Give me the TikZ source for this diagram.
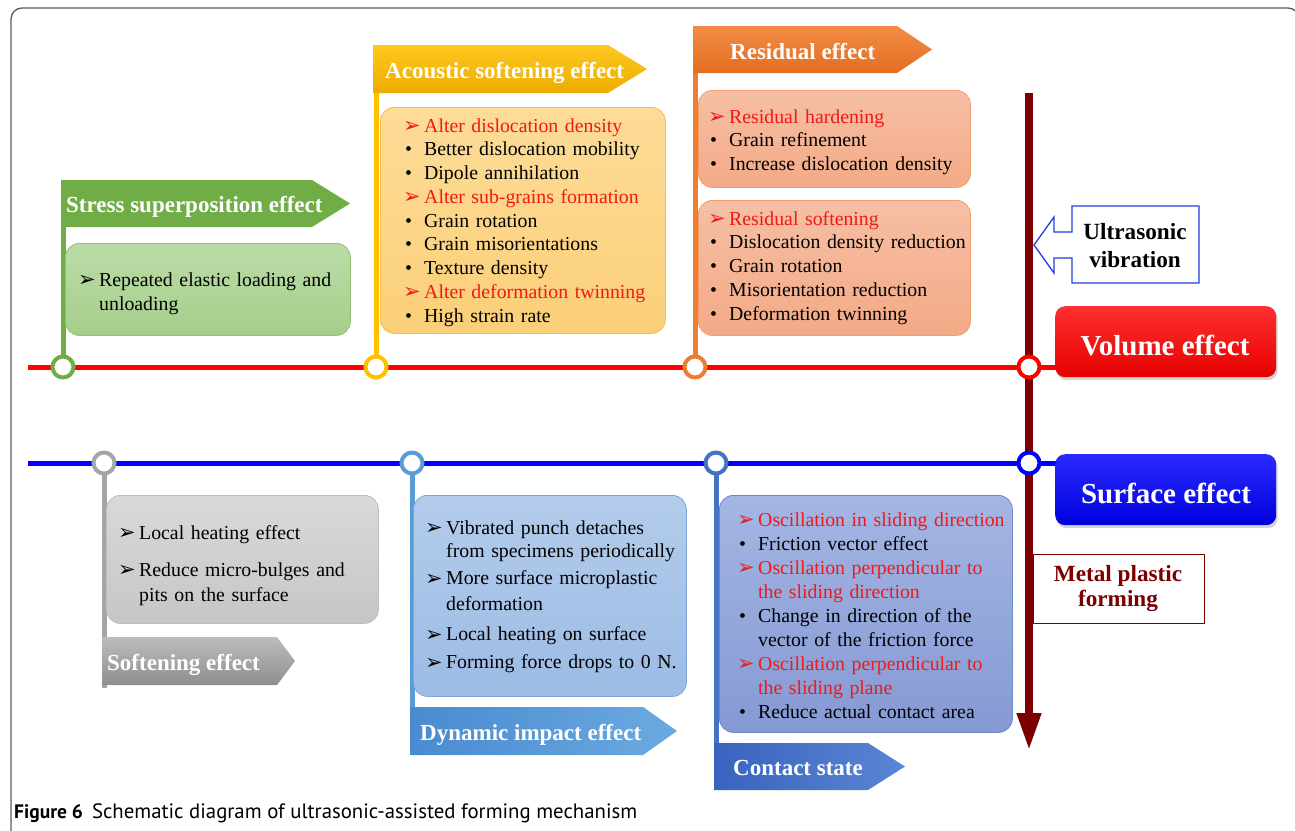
\documentclass[tikz,border=0pt]{standalone}
\usepackage{fontspec}
\setmainfont{Liberation Serif}
\newfontfamily\dingfont{DejaVu Sans}
\newfontfamily\capfont{PT Sans}
\usetikzlibrary{shadows,arrows.meta}

\definecolor{greenF}{HTML}{70AD47}
\definecolor{goldF}{HTML}{FFC000}
\definecolor{orangeF}{HTML}{ED7D31}
\definecolor{grayF}{HTML}{A5A5A5}
\definecolor{ltblueF}{HTML}{5B9BD5}
\definecolor{blueF}{HTML}{4472C4}
\definecolor{redtxt}{HTML}{F01818}
\definecolor{arrowred}{HTML}{7B0000}
\definecolor{ublue}{HTML}{1F3FE0}
\definecolor{framegray}{HTML}{5A5A5A}
% box fills and borders
\definecolor{gBd}{HTML}{8FC172}\definecolor{gTop}{HTML}{BCDCA8}\definecolor{gBot}{HTML}{A5CE8A}
\definecolor{aBd}{HTML}{F3BF4C}\definecolor{aTop}{HTML}{FDDC98}\definecolor{aBot}{HTML}{FBCF78}
\definecolor{rBd}{HTML}{F29E6E}\definecolor{rTop}{HTML}{F6BFA5}\definecolor{rBot}{HTML}{F3AA86}
\definecolor{sBd}{HTML}{BDBDBD}\definecolor{sTop}{HTML}{D9D9D9}\definecolor{sBot}{HTML}{C6C6C6}
\definecolor{dBd}{HTML}{7EA5D8}\definecolor{dTop}{HTML}{B3CCEC}\definecolor{dBot}{HTML}{9DBBE4}
\definecolor{cBd}{HTML}{6A88CF}\definecolor{cTop}{HTML}{A4B6E3}\definecolor{cBot}{HTML}{8699D3}
% flag shades
\definecolor{fAtop}{HTML}{FFC71F}\definecolor{fAbot}{HTML}{EDAD00}
\definecolor{fRtop}{HTML}{F28C45}\definecolor{fRbot}{HTML}{E26E22}
\definecolor{fStop}{HTML}{BDBDBD}\definecolor{fSbot}{HTML}{8E8E8E}
\definecolor{fDl}{HTML}{4A8AD0}\definecolor{fDr}{HTML}{6BAAE0}
\definecolor{fCl}{HTML}{3963BE}\definecolor{fCr}{HTML}{5B86D4}
% effect boxes
\definecolor{volTop}{HTML}{FF3030}\definecolor{volBot}{HTML}{E60000}
\definecolor{surTop}{HTML}{2A2AFF}\definecolor{surBot}{HTML}{0000DC}

% list markers
\newcommand\mk{\makebox[21pt][l]{\raisebox{-0.5pt}{\dingfont\fontsize{21}{21}\selectfont ➢}}}
\newcommand\bl{\makebox[21pt][l]{\hspace{2pt}•}}
\newcommand\ind{\hspace*{21pt}}
\newcommand\rmk[1]{\textcolor{redtxt}{\mk #1}}

\begin{document}
\begin{tikzpicture}[x=1pt,y=-1pt,
  hdr/.style={anchor=base west, inner sep=0, text=white, font=\fontsize{23}{27}\selectfont\bfseries},
  body/.style={anchor=north west, inner sep=0, align=left, text width=300pt, font=\fontsize{19.8}{23.8}\selectfont},
  cbox/.style={anchor=north west, rounded corners=14pt, line width=0.8pt, inner sep=0},
  jn/.style={circle, draw=#1, fill=white, line width=4pt, minimum size=21pt, inner sep=0},
  stem/.style={line width=5pt},
  bigbox/.style={anchor=north west, rounded corners=10pt, inner sep=0, minimum width=221pt, minimum height=71pt,
    drop shadow={shadow xshift=1.5pt, shadow yshift=-3pt, opacity=0.35}},
  bigtxt/.style={anchor=base, inner sep=0, text=white, font=\fontsize{29}{33}\selectfont\bfseries},
  sidetxt/.style={anchor=base, inner sep=0, align=center, font=\fontsize{23.2}{27.5}\selectfont\bfseries}
]
\useasboundingbox (0,0) rectangle (1295,830);

% outer frame
\draw[framegray, line width=1.3pt, rounded corners=11pt] (11,845) -- (11,8) -- (1299,8) -- (1299,845);

% junction points and line ends
\coordinate (redL) at (28,367);
\coordinate (redR) at (1062,367);
\coordinate (blueL) at (28,463);
\coordinate (blueR) at (1062,463);
\coordinate (jv1) at (63,367);
\coordinate (jv2) at (376,367);
\coordinate (jv3) at (695,367);
\coordinate (jv4) at (1029,367);
\coordinate (js1) at (104,463);
\coordinate (js2) at (412,463);
\coordinate (js3) at (716,463);
\coordinate (js4) at (1029,463);
\coordinate (st1) at (63,180);
\coordinate (st2) at (376,45);
\coordinate (st3) at (695,26);
\coordinate (sb1) at (104,688);
\coordinate (sb2) at (412,755);
\coordinate (sb3) at (716,790);
\coordinate (arrTop) at (1029,93);
\coordinate (arrEnd) at (1029,750);

% the two effect lines
\draw[red, line width=5pt] (redL) -- (redR);
\draw[blue, line width=5pt] (blueL) -- (blueR);

% main process arrow
\draw[arrowred, line width=7.5pt, -{Triangle[width=23pt,length=37pt]}] (arrTop) -- (arrEnd);

% stems
\draw[stem, greenF] (jv1) -- (st1);
\draw[stem, goldF] (jv2) -- (st2);
\draw[stem, orangeF] (jv3) -- (st3);
\draw[stem, grayF] (js1) -- (sb1);
\draw[stem, ltblueF] (js2) -- (sb2);
\draw[stem, blueF] (js3) -- (sb3);

% content boxes
\node[cbox, draw=gBd, top color=gTop, bottom color=gBot, minimum width=285pt, minimum height=92pt] (gbox) at (65,243) {};
\node[cbox, draw=aBd, top color=aTop, bottom color=aBot, minimum width=285pt, minimum height=226pt] (abox) at (380,107) {};
\node[cbox, draw=rBd, top color=rTop, bottom color=rBot, minimum width=272pt, minimum height=97pt] (rbox1) at (698,90) {};
\node[cbox, draw=rBd, top color=rTop, bottom color=rBot, minimum width=272pt, minimum height=135pt] (rbox2) at (698,200) {};
\node[cbox, draw=sBd, top color=sTop, bottom color=sBot, minimum width=272pt, minimum height=128pt] (sbox) at (106,495) {};
\node[cbox, draw=dBd, top color=dTop, bottom color=dBot, minimum width=273pt, minimum height=201pt] (dbox) at (413,495) {};
\node[cbox, draw=cBd, top color=cTop, bottom color=cBot, minimum width=293pt, minimum height=237pt] (cbx) at (719,495) {};

% flags
\fill[greenF] (61,180) -- (312,180) -- (350,203.5) -- (312,227) -- (61,227) -- cycle;
\shade[top color=fAtop, bottom color=fAbot] (373,45) -- (608,45) -- (647,69) -- (608,93) -- (373,93) -- cycle;
\shade[top color=fRtop, bottom color=fRbot] (693,26) -- (897,26) -- (932,49.5) -- (897,73) -- (693,73) -- cycle;
\shade[top color=fStop, bottom color=fSbot] (102,637) -- (277,637) -- (295,661) -- (277,685) -- (102,685) -- cycle;
\shade[left color=fDl, right color=fDr] (410,707) -- (643,707) -- (677,731) -- (643,755) -- (410,755) -- cycle;
\shade[left color=fCl, right color=fCr] (714,743) -- (868,743) -- (905,766.5) -- (868,790) -- (714,790) -- cycle;

\node[hdr] (hstress) at (66,212) {Stress superposition effect};
\node[hdr] (hacou) at (385,78) {Acoustic softening effect};
\node[hdr] (hresid) at (730,59) {Residual effect};
\node[hdr] (hsoft) at (107,670) {Softening effect};
\node[hdr] (hdyn) at (420,740) {Dynamic impact effect};
\node[hdr] (hcont) at (733,775) {Contact state};

% volume and surface boxes
\node[bigbox, top color=volTop, bottom color=volBot] (vol) at (1055,306) {};
\node[bigtxt] (voltxt) at (1165,355) {Volume effect};
\node[bigbox, top color=surTop, bottom color=surBot] (surf) at (1055,454) {};
\node[bigtxt] (surftxt) at (1166,503) {Surface effect};

% ultrasonic input arrow
\draw[ublue, line width=1.3pt, fill=white] (1199,206) -- (1072,206) -- (1072,232) -- (1054,232) -- (1054,217)
  -- (1034,245) -- (1054,273) -- (1054,258) -- (1072,258) -- (1072,283) -- (1199,283) -- cycle;
% base of a two-line node is the baseline of its last line
\node[sidetxt] (ultra) at (1135,267) {Ultrasonic\\vibration};

% process label
\node[anchor=north west, draw=arrowred, line width=1pt, fill=white, inner sep=0, minimum width=171pt, minimum height=69pt] (mpfbox) at (1033,554) {};
\node[sidetxt, text=arrowred, font=\fontsize{23.2}{24.5}\selectfont\bfseries] (mpf) at (1118,606) {Metal plastic\\forming};

% junction circles
\node[jn=greenF] (c1) at (jv1) {};
\node[jn=goldF] (c2) at (jv2) {};
\node[jn=orangeF] (c3) at (jv3) {};
\node[jn=red] (c4) at (jv4) {};
\node[jn=grayF] (c5) at (js1) {};
\node[jn=ltblueF] (c6) at (js2) {};
\node[jn=blueF] (c7) at (js3) {};
\node[jn=blue] (c8) at (js4) {};

% box texts
\node[body, font=\fontsize{19.8}{24}\selectfont] (tg) at (78,269.2) {\strut\mk Repeated elastic loading and\\\ind unloading};

\node[body, font=\fontsize{19.8}{23.75}\selectfont] (ta) at (403,115.4) {\strut\rmk{Alter dislocation density}\\
\bl Better dislocation mobility\\
\bl Dipole annihilation\\
\rmk{Alter sub-grains formation}\\
\bl Grain rotation\\
\bl Grain misorientations\\
\bl Texture density\\
\rmk{Alter deformation twinning}\\
\bl High strain rate};

\node[body] (tr1) at (708,106.3) {\strut\rmk{Residual hardening}\\
\bl Grain refinement\\
\bl Increase dislocation density};

\node[body] (tr2) at (708,208.3) {\strut\rmk{Residual softening}\\
\bl Dislocation density reduction\\
\bl Grain rotation\\
\bl Misorientation reduction\\
\bl Deformation twinning};

\node[body] (ts) at (118,522.3) {\strut\mk Local heating effect\\[13.2pt]
\mk\makebox[222pt][s]{Reduce micro-bulges and}\\[1.2pt]
\ind pits on the surface};

\node[body] (td) at (425,517.3) {\strut\mk Vibrated punch detaches\\
\ind from specimens periodically\\[3.2pt]
\mk More surface microplastic\\[2.2pt]
\ind deformation\\[6.2pt]
\mk Local heating on surface\\[4.2pt]
\mk Forming force drops to 0 N.};

\node[body, font=\fontsize{19.8}{24}\selectfont] (tc) at (737,509.2) {\strut\rmk{Oscillation in sliding direction}\\
\bl Friction vector effect\\
\rmk{Oscillation perpendicular to}\\
\textcolor{redtxt}{\ind the sliding direction}\\
\bl Change in direction of the\\
\ind vector of the friction force\\
\rmk{Oscillation perpendicular to}\\
\textcolor{redtxt}{\ind the sliding plane}\\
\bl Reduce actual contact area};

% caption
\node[anchor=base west, inner sep=0, font=\capfont\fontsize{20.8}{23}\selectfont] (cap) at (14,818)
  {{\fontsize{19.5}{22}\selectfont\bfseries Figure 6}\hspace{9pt}Schematic diagram of ultrasonic-assisted forming mechanism};
\end{tikzpicture}
\end{document}
